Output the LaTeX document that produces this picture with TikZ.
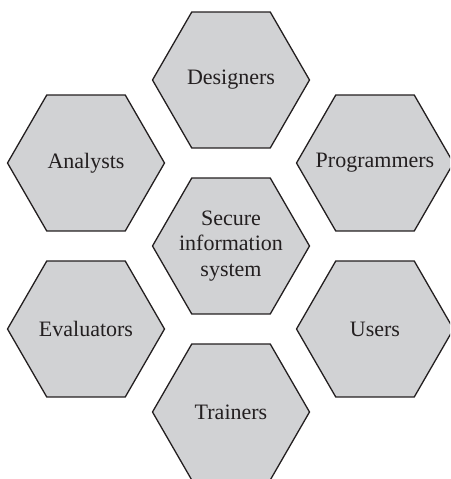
\documentclass[tikz,border=0pt]{standalone}
\usepackage{fontspec}
\setmainfont{Liberation Serif}
\usetikzlibrary{shapes.geometric}
\definecolor{hexfill}{HTML}{D1D2D4}
\definecolor{hexline}{HTML}{231F20}
\begin{document}
\begin{tikzpicture}[x=1pt,y=-1pt,
  hexbox/.style={regular polygon, regular polygon sides=6, minimum size=157pt,
    inner sep=0pt, draw=hexline, line width=1.3pt, fill=hexfill},
  hexlabel/.style={inner sep=0pt, font=\fontsize{22}{25.7}\selectfont,
    text=hexline, align=center}]
\useasboundingbox (0,0) rectangle (450,479);
\clip (0,0) rectangle (450,479);
\node[hexbox] (center) at (231,246) {};
\node[hexbox] (designers) at (231,80) {};
\node[hexbox] (trainers) at (231,412) {};
\node[hexbox] (analysts) at (86,163) {};
\node[hexbox] (evaluators) at (86,329) {};
\node[hexbox] (programmers) at (375,163) {};
\node[hexbox] (users) at (375,329) {};
\node[hexlabel] (center-t) at (center) {Secure\\information\\system};
\node[hexlabel] (designers-t) at (designers) {Designers};
\node[hexlabel] (trainers-t) at (trainers) {Trainers};
\node[hexlabel] (analysts-t) at (analysts) {Analysts};
\node[hexlabel] (evaluators-t) at (evaluators) {Evaluators};
\node[hexlabel] (programmers-t) at (programmers) {Programmers};
\node[hexlabel] (users-t) at (users) {Users};
\end{tikzpicture}
\end{document}
